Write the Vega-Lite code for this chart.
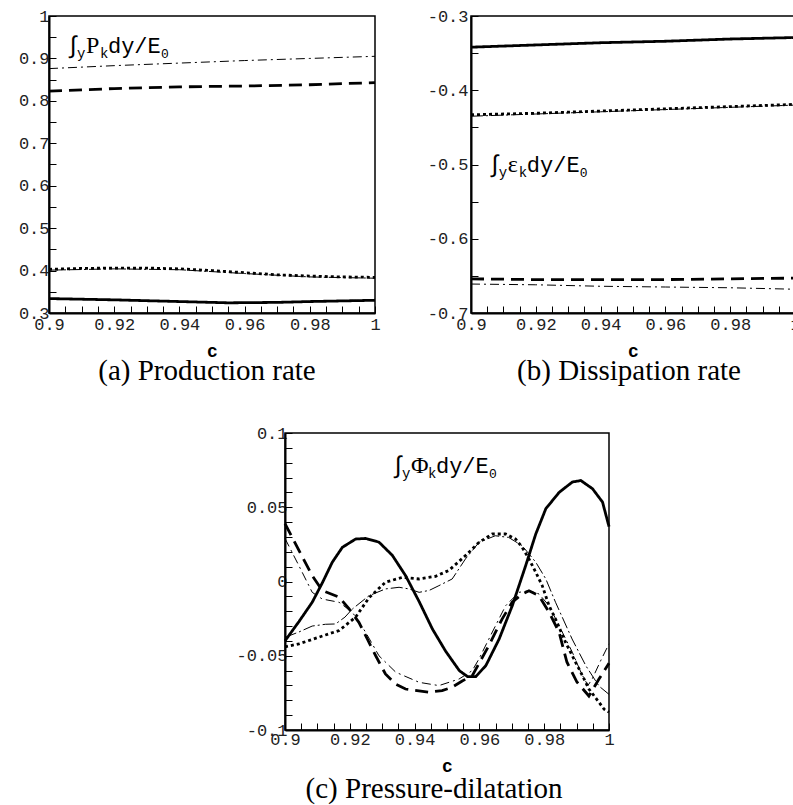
{
  "$schema": "https://vega.github.io/schema/vega-lite/v6.json",
  "padding": {"left": 17, "top": 6, "right": 0, "bottom": 0},
  "background": "white",
  "config": {
    "view": {"stroke": "black", "strokeWidth": 1.5},
    "axis": {"domainColor": "black", "domainWidth": 2, "tickColor": "black", "tickWidth": 1, "tickSize": -7, "labelFont": "Liberation Mono", "labelFontSize": 17, "labelColor": "#222", "grid": false, "titleFont": "Liberation Mono", "titleFontSize": 18, "titleFontWeight": "bold", "titleColor": "black", "labelFlush": false, "labelOverlap": false},
    "title": {"font": "Liberation Serif", "fontSize": 29, "fontWeight": "normal", "color": "black", "orient": "bottom", "offset": -3},
    "text": {"font": "Liberation Mono", "color": "black", "align": "left", "baseline": "middle"}
  },
  "datasets": {
    "pa": [
      {"s": "solid", "x": 0.9, "y": 0.334}, {"s": "solid", "x": 0.92, "y": 0.331}, {"s": "solid", "x": 0.94, "y": 0.327}, {"s": "solid", "x": 0.955, "y": 0.324}, {"s": "solid", "x": 0.97, "y": 0.325}, {"s": "solid", "x": 0.98, "y": 0.327}, {"s": "solid", "x": 1.0, "y": 0.330},
      {"s": "dot", "x": 0.9, "y": 0.403}, {"s": "dot", "x": 0.91, "y": 0.405}, {"s": "dot", "x": 0.92, "y": 0.406}, {"s": "dot", "x": 0.93, "y": 0.406}, {"s": "dot", "x": 0.94, "y": 0.404}, {"s": "dot", "x": 0.95, "y": 0.400}, {"s": "dot", "x": 0.96, "y": 0.395}, {"s": "dot", "x": 0.97, "y": 0.390}, {"s": "dot", "x": 0.98, "y": 0.387}, {"s": "dot", "x": 0.99, "y": 0.385}, {"s": "dot", "x": 1.0, "y": 0.384},
      {"s": "dashdotA", "x": 0.9, "y": 0.401}, {"s": "dashdotA", "x": 0.92, "y": 0.404}, {"s": "dashdotA", "x": 0.94, "y": 0.402}, {"s": "dashdotA", "x": 0.96, "y": 0.393}, {"s": "dashdotA", "x": 0.98, "y": 0.385}, {"s": "dashdotA", "x": 1.0, "y": 0.382},
      {"s": "dash", "x": 0.9, "y": 0.823}, {"s": "dash", "x": 0.92, "y": 0.829}, {"s": "dash", "x": 0.94, "y": 0.833}, {"s": "dash", "x": 0.96, "y": 0.835}, {"s": "dash", "x": 0.98, "y": 0.838}, {"s": "dash", "x": 1.0, "y": 0.843},
      {"s": "dashdotB", "x": 0.9, "y": 0.876}, {"s": "dashdotB", "x": 0.92, "y": 0.883}, {"s": "dashdotB", "x": 0.94, "y": 0.889}, {"s": "dashdotB", "x": 0.96, "y": 0.895}, {"s": "dashdotB", "x": 0.98, "y": 0.900}, {"s": "dashdotB", "x": 1.0, "y": 0.905}
    ],
    "pb": [
      {"s": "solid", "x": 0.9, "y": -0.342}, {"s": "solid", "x": 0.92, "y": -0.339}, {"s": "solid", "x": 0.94, "y": -0.336}, {"s": "solid", "x": 0.96, "y": -0.334}, {"s": "solid", "x": 0.98, "y": -0.331}, {"s": "solid", "x": 1.0, "y": -0.329},
      {"s": "dot", "x": 0.9, "y": -0.433}, {"s": "dot", "x": 0.92, "y": -0.431}, {"s": "dot", "x": 0.94, "y": -0.428}, {"s": "dot", "x": 0.96, "y": -0.425}, {"s": "dot", "x": 0.98, "y": -0.422}, {"s": "dot", "x": 1.0, "y": -0.419},
      {"s": "dashdotA", "x": 0.9, "y": -0.435}, {"s": "dashdotA", "x": 0.92, "y": -0.432}, {"s": "dashdotA", "x": 0.94, "y": -0.429}, {"s": "dashdotA", "x": 0.96, "y": -0.426}, {"s": "dashdotA", "x": 0.98, "y": -0.423}, {"s": "dashdotA", "x": 1.0, "y": -0.420},
      {"s": "dash", "x": 0.9, "y": -0.654}, {"s": "dash", "x": 0.92, "y": -0.655}, {"s": "dash", "x": 0.94, "y": -0.655}, {"s": "dash", "x": 0.96, "y": -0.655}, {"s": "dash", "x": 0.98, "y": -0.654}, {"s": "dash", "x": 1.0, "y": -0.653},
      {"s": "dashdotB", "x": 0.9, "y": -0.661}, {"s": "dashdotB", "x": 0.92, "y": -0.662}, {"s": "dashdotB", "x": 0.94, "y": -0.664}, {"s": "dashdotB", "x": 0.96, "y": -0.665}, {"s": "dashdotB", "x": 0.98, "y": -0.666}, {"s": "dashdotB", "x": 1.0, "y": -0.668}
    ],
    "pc": [
      {"s": "solid", "x": 0.9, "y": -0.040}, {"s": "solid", "x": 0.9043, "y": -0.027}, {"s": "solid", "x": 0.9084, "y": -0.014}, {"s": "solid", "x": 0.9115, "y": -0.001}, {"s": "solid", "x": 0.9146, "y": 0.013}, {"s": "solid", "x": 0.9177, "y": 0.023}, {"s": "solid", "x": 0.9218, "y": 0.0286}, {"s": "solid", "x": 0.9249, "y": 0.029}, {"s": "solid", "x": 0.929, "y": 0.0265}, {"s": "solid", "x": 0.9331, "y": 0.0177}, {"s": "solid", "x": 0.9372, "y": 0.004}, {"s": "solid", "x": 0.9414, "y": -0.0135}, {"s": "solid", "x": 0.9455, "y": -0.032}, {"s": "solid", "x": 0.9496, "y": -0.047}, {"s": "solid", "x": 0.9538, "y": -0.060}, {"s": "solid", "x": 0.9563, "y": -0.064}, {"s": "solid", "x": 0.9589, "y": -0.064}, {"s": "solid", "x": 0.962, "y": -0.0566}, {"s": "solid", "x": 0.9661, "y": -0.0387}, {"s": "solid", "x": 0.9702, "y": -0.016}, {"s": "solid", "x": 0.9743, "y": 0.0108}, {"s": "solid", "x": 0.9774, "y": 0.032}, {"s": "solid", "x": 0.9805, "y": 0.049}, {"s": "solid", "x": 0.9846, "y": 0.060}, {"s": "solid", "x": 0.9887, "y": 0.067}, {"s": "solid", "x": 0.9913, "y": 0.068}, {"s": "solid", "x": 0.9949, "y": 0.0625}, {"s": "solid", "x": 0.998, "y": 0.0535}, {"s": "solid", "x": 1.0, "y": 0.037},
      {"s": "dot", "x": 0.9, "y": -0.044}, {"s": "dot", "x": 0.9043, "y": -0.042}, {"s": "dot", "x": 0.9084, "y": -0.039}, {"s": "dot", "x": 0.9125, "y": -0.036}, {"s": "dot", "x": 0.9167, "y": -0.033}, {"s": "dot", "x": 0.9218, "y": -0.024}, {"s": "dot", "x": 0.9259, "y": -0.011}, {"s": "dot", "x": 0.931, "y": -0.0005}, {"s": "dot", "x": 0.9362, "y": 0.0028}, {"s": "dot", "x": 0.9414, "y": 0.0017}, {"s": "dot", "x": 0.9465, "y": 0.0035}, {"s": "dot", "x": 0.9506, "y": 0.0075}, {"s": "dot", "x": 0.9557, "y": 0.0174}, {"s": "dot", "x": 0.9599, "y": 0.0264}, {"s": "dot", "x": 0.964, "y": 0.032}, {"s": "dot", "x": 0.9681, "y": 0.032}, {"s": "dot", "x": 0.9712, "y": 0.0286}, {"s": "dot", "x": 0.9732, "y": 0.023}, {"s": "dot", "x": 0.9753, "y": 0.0152}, {"s": "dot", "x": 0.9774, "y": 0.0062}, {"s": "dot", "x": 0.9794, "y": -0.0028}, {"s": "dot", "x": 0.9815, "y": -0.0163}, {"s": "dot", "x": 0.9835, "y": -0.0253}, {"s": "dot", "x": 0.9866, "y": -0.041}, {"s": "dot", "x": 0.9897, "y": -0.0544}, {"s": "dot", "x": 0.9918, "y": -0.0634}, {"s": "dot", "x": 0.9938, "y": -0.0724}, {"s": "dot", "x": 0.9969, "y": -0.0813}, {"s": "dot", "x": 0.9985, "y": -0.086}, {"s": "dot", "x": 1.0, "y": -0.088},
      {"s": "dashdotA", "x": 0.9, "y": -0.0376}, {"s": "dashdotA", "x": 0.9043, "y": -0.034}, {"s": "dashdotA", "x": 0.9084, "y": -0.030}, {"s": "dashdotA", "x": 0.9125, "y": -0.0288}, {"s": "dashdotA", "x": 0.9156, "y": -0.0286}, {"s": "dashdotA", "x": 0.9185, "y": -0.024}, {"s": "dashdotA", "x": 0.9208, "y": -0.0185}, {"s": "dashdotA", "x": 0.9259, "y": -0.0096}, {"s": "dashdotA", "x": 0.931, "y": -0.005}, {"s": "dashdotA", "x": 0.9352, "y": -0.0039}, {"s": "dashdotA", "x": 0.9383, "y": -0.005}, {"s": "dashdotA", "x": 0.9414, "y": -0.0073}, {"s": "dashdotA", "x": 0.9445, "y": -0.006}, {"s": "dashdotA", "x": 0.9475, "y": -0.0028}, {"s": "dashdotA", "x": 0.9516, "y": 0.0017}, {"s": "dashdotA", "x": 0.9557, "y": 0.0152}, {"s": "dashdotA", "x": 0.9599, "y": 0.0264}, {"s": "dashdotA", "x": 0.9649, "y": 0.0308}, {"s": "dashdotA", "x": 0.969, "y": 0.0297}, {"s": "dashdotA", "x": 0.9732, "y": 0.0241}, {"s": "dashdotA", "x": 0.9774, "y": 0.013}, {"s": "dashdotA", "x": 0.9805, "y": 0.0017}, {"s": "dashdotA", "x": 0.9835, "y": -0.014}, {"s": "dashdotA", "x": 0.9886, "y": -0.0387}, {"s": "dashdotA", "x": 0.9929, "y": -0.0569}, {"s": "dashdotA", "x": 0.9969, "y": -0.0704}, {"s": "dashdotA", "x": 1.0, "y": -0.076},
      {"s": "dash", "x": 0.9, "y": 0.039}, {"s": "dash", "x": 0.9043, "y": 0.021}, {"s": "dash", "x": 0.9084, "y": 0.004}, {"s": "dash", "x": 0.9115, "y": -0.006}, {"s": "dash", "x": 0.9167, "y": -0.0106}, {"s": "dash", "x": 0.9198, "y": -0.0185}, {"s": "dash", "x": 0.9228, "y": -0.0275}, {"s": "dash", "x": 0.9254, "y": -0.0387}, {"s": "dash", "x": 0.928, "y": -0.050}, {"s": "dash", "x": 0.931, "y": -0.0623}, {"s": "dash", "x": 0.9341, "y": -0.069}, {"s": "dash", "x": 0.9372, "y": -0.0724}, {"s": "dash", "x": 0.9444, "y": -0.0745}, {"s": "dash", "x": 0.9485, "y": -0.0735}, {"s": "dash", "x": 0.9516, "y": -0.0712}, {"s": "dash", "x": 0.9547, "y": -0.067}, {"s": "dash", "x": 0.9578, "y": -0.0634}, {"s": "dash", "x": 0.9629, "y": -0.0432}, {"s": "dash", "x": 0.967, "y": -0.0253}, {"s": "dash", "x": 0.9701, "y": -0.014}, {"s": "dash", "x": 0.9732, "y": -0.0084}, {"s": "dash", "x": 0.9753, "y": -0.0062}, {"s": "dash", "x": 0.9784, "y": -0.0096}, {"s": "dash", "x": 0.9815, "y": -0.0207}, {"s": "dash", "x": 0.9846, "y": -0.0342}, {"s": "dash", "x": 0.987, "y": -0.0542}, {"s": "dash", "x": 0.9901, "y": -0.0677}, {"s": "dash", "x": 0.9938, "y": -0.0771}, {"s": "dash", "x": 0.9969, "y": -0.0657}, {"s": "dash", "x": 1.0, "y": -0.055},
      {"s": "dashdotB", "x": 0.9, "y": 0.029}, {"s": "dashdotB", "x": 0.9043, "y": 0.0106}, {"s": "dashdotB", "x": 0.9084, "y": -0.0073}, {"s": "dashdotB", "x": 0.9115, "y": -0.0118}, {"s": "dashdotB", "x": 0.9167, "y": -0.014}, {"s": "dashdotB", "x": 0.9208, "y": -0.0207}, {"s": "dashdotB", "x": 0.9249, "y": -0.0342}, {"s": "dashdotB", "x": 0.929, "y": -0.05}, {"s": "dashdotB", "x": 0.9342, "y": -0.0611}, {"s": "dashdotB", "x": 0.9414, "y": -0.0679}, {"s": "dashdotB", "x": 0.9475, "y": -0.0701}, {"s": "dashdotB", "x": 0.9537, "y": -0.0657}, {"s": "dashdotB", "x": 0.9578, "y": -0.060}, {"s": "dashdotB", "x": 0.9599, "y": -0.052}, {"s": "dashdotB", "x": 0.964, "y": -0.034}, {"s": "dashdotB", "x": 0.9681, "y": -0.0163}, {"s": "dashdotB", "x": 0.9722, "y": -0.0073}, {"s": "dashdotB", "x": 0.9753, "y": -0.0062}, {"s": "dashdotB", "x": 0.9784, "y": -0.0084}, {"s": "dashdotB", "x": 0.9815, "y": -0.0163}, {"s": "dashdotB", "x": 0.9846, "y": -0.0298}, {"s": "dashdotB", "x": 0.9887, "y": -0.0477}, {"s": "dashdotB", "x": 0.9915, "y": -0.062}, {"s": "dashdotB", "x": 0.9935, "y": -0.070}, {"s": "dashdotB", "x": 0.9948, "y": -0.0657}, {"s": "dashdotB", "x": 0.9975, "y": -0.053}, {"s": "dashdotB", "x": 1.0, "y": -0.042}
    ]
  },
  "spacing": 36,
  "vconcat": [
    {
      "bounds": "flush",
      "spacing": 96,
      "hconcat": [
        {
          "width": 326, "height": 297,
          "title": {"text": "(a) Production rate", "dx": -5},
          "encoding": {
            "x": {"field": "x", "type": "quantitative", "scale": {"domain": [0.9, 1], "nice": false, "zero": false}, "axis": {"title": "c", "values": [0.9, 0.905, 0.91, 0.915, 0.92, 0.925, 0.93, 0.935, 0.94, 0.945, 0.95, 0.955, 0.96, 0.965, 0.97, 0.975, 0.98, 0.985, 0.99, 0.995, 1], "labelExpr": "abs(datum.value*50-round(datum.value*50))<0.001 ? ''+datum.value : ''", "labelPadding": 10, "titlePadding": 10}},
            "y": {"field": "y", "type": "quantitative", "scale": {"domain": [0.3, 1], "nice": false, "zero": false}, "axis": {"title": null, "values": [0.3, 0.35, 0.4, 0.45, 0.5, 0.55, 0.6, 0.65, 0.7, 0.75, 0.8, 0.85, 0.9, 0.95, 1], "labelExpr": "abs(datum.value*10-round(datum.value*10))<0.001 ? ''+datum.value : ''", "labelPadding": 7}}
          },
          "layer": [
            {"data": {"name": "pa"}, "transform": [{"filter": "datum.s=='dashdotA'||datum.s=='dashdotB'"}], "mark": {"type": "line", "color": "black", "strokeWidth": 1, "strokeCap": "butt"},
             "encoding": {"strokeDash": {"field": "s", "type": "nominal", "scale": {"domain": ["solid", "dot", "dashdotA", "dash", "dashdotB"], "range": [[1, 0], [3, 3], [12, 3, 2, 3], [13, 7], [9, 4, 2, 4]]}, "legend": null}}},
            {"data": {"name": "pa"}, "transform": [{"filter": "datum.s=='solid'||datum.s=='dot'||datum.s=='dash'"}], "mark": {"type": "line", "color": "black", "strokeWidth": 2.8, "strokeCap": "butt"},
             "encoding": {"strokeDash": {"field": "s", "type": "nominal", "scale": {"domain": ["solid", "dot", "dashdotA", "dash", "dashdotB"], "range": [[1, 0], [3, 3], [12, 3, 2, 3], [13, 7], [9, 4, 2, 4]]}, "legend": null}}},
            {"data": {"values": [{"x": 0.9052, "y": 0.929}]}, "mark": {"type": "text", "text": "∫", "fontSize": 24}},
            {"data": {"values": [{"x": 0.9052, "y": 0.929}]}, "mark": {"type": "text", "text": "y", "fontSize": 14, "dx": 11, "dy": 8}},
            {"data": {"values": [{"x": 0.9052, "y": 0.929}]}, "mark": {"type": "text", "text": "P", "font": "Liberation Serif", "fontSize": 24, "dx": 20}},
            {"data": {"values": [{"x": 0.9052, "y": 0.929}]}, "mark": {"type": "text", "text": "k", "fontSize": 14, "dx": 34, "dy": 8}},
            {"data": {"values": [{"x": 0.9052, "y": 0.929}]}, "mark": {"type": "text", "text": "dy/E", "fontSize": 22, "dx": 42}},
            {"data": {"values": [{"x": 0.9052, "y": 0.929}]}, "mark": {"type": "text", "text": "0", "fontSize": 13, "dx": 95, "dy": 8}}
          ]
        },
        {
          "width": 324, "height": 297,
          "title": {"text": "(b) Dissipation rate", "dx": -4},
          "encoding": {
            "x": {"field": "x", "type": "quantitative", "scale": {"domain": [0.9, 1], "nice": false, "zero": false}, "axis": {"title": "c", "values": [0.9, 0.905, 0.91, 0.915, 0.92, 0.925, 0.93, 0.935, 0.94, 0.945, 0.95, 0.955, 0.96, 0.965, 0.97, 0.975, 0.98, 0.985, 0.99, 0.995, 1], "labelExpr": "abs(datum.value*50-round(datum.value*50))<0.001 ? ''+datum.value : ''", "labelPadding": 10, "titlePadding": 10}},
            "y": {"field": "y", "type": "quantitative", "scale": {"domain": [-0.7, -0.3], "nice": false, "zero": false}, "axis": {"title": null, "values": [-0.7, -0.65, -0.6, -0.55, -0.5, -0.45, -0.4, -0.35, -0.3], "labelExpr": "abs(datum.value*10-round(datum.value*10))<0.001 ? ''+datum.value : ''", "labelPadding": 10}}
          },
          "layer": [
            {"data": {"name": "pb"}, "transform": [{"filter": "datum.s=='dashdotA'||datum.s=='dashdotB'"}], "mark": {"type": "line", "color": "black", "strokeWidth": 1, "strokeCap": "butt"},
             "encoding": {"strokeDash": {"field": "s", "type": "nominal", "scale": {"domain": ["solid", "dot", "dashdotA", "dash", "dashdotB"], "range": [[1, 0], [3, 3], [12, 3, 2, 3], [13, 7], [9, 4, 2, 4]]}, "legend": null}}},
            {"data": {"name": "pb"}, "transform": [{"filter": "datum.s=='solid'||datum.s=='dot'||datum.s=='dash'"}], "mark": {"type": "line", "color": "black", "strokeWidth": 2.8, "strokeCap": "butt"},
             "encoding": {"strokeDash": {"field": "s", "type": "nominal", "scale": {"domain": ["solid", "dot", "dashdotA", "dash", "dashdotB"], "range": [[1, 0], [3, 3], [12, 3, 2, 3], [13, 7], [9, 4, 2, 4]]}, "legend": null}}},
            {"data": {"values": [{"x": 0.9052, "y": -0.5}]}, "mark": {"type": "text", "text": "∫", "fontSize": 24}},
            {"data": {"values": [{"x": 0.9052, "y": -0.5}]}, "mark": {"type": "text", "text": "y", "fontSize": 14, "dx": 11, "dy": 8}},
            {"data": {"values": [{"x": 0.9052, "y": -0.5}]}, "mark": {"type": "text", "text": "ε", "font": "Liberation Serif", "fontSize": 24, "dx": 20}},
            {"data": {"values": [{"x": 0.9052, "y": -0.5}]}, "mark": {"type": "text", "text": "k", "fontSize": 14, "dx": 31, "dy": 8}},
            {"data": {"values": [{"x": 0.9052, "y": -0.5}]}, "mark": {"type": "text", "text": "dy/E", "fontSize": 22, "dx": 39}},
            {"data": {"values": [{"x": 0.9052, "y": -0.5}]}, "mark": {"type": "text", "text": "0", "fontSize": 13, "dx": 92, "dy": 8}}
          ]
        }
      ]
    },
    {
      "bounds": "flush",
      "spacing": 20,
      "hconcat": [
        {"width": 216, "height": 297, "view": {"stroke": null}, "data": {"values": [{"a": 1}]}, "mark": {"type": "point", "opacity": 0}},
        {
          "width": 324, "height": 297,
          "title": {"text": "(c) Pressure-dilatation", "dx": -13, "offset": 0},
          "encoding": {
            "x": {"field": "x", "type": "quantitative", "scale": {"domain": [0.9, 1], "nice": false, "zero": false}, "axis": {"title": "c", "values": [0.9, 0.905, 0.91, 0.915, 0.92, 0.925, 0.93, 0.935, 0.94, 0.945, 0.95, 0.955, 0.96, 0.965, 0.97, 0.975, 0.98, 0.985, 0.99, 0.995, 1], "labelExpr": "abs(datum.value*50-round(datum.value*50))<0.001 ? ''+datum.value : ''", "labelPadding": 8, "titlePadding": 10}},
            "y": {"field": "y", "type": "quantitative", "scale": {"domain": [-0.1, 0.1], "nice": false, "zero": false}, "axis": {"title": null, "values": [-0.1, -0.09, -0.08, -0.07, -0.06, -0.05, -0.04, -0.03, -0.02, -0.01, 0, 0.01, 0.02, 0.03, 0.04, 0.05, 0.06, 0.07, 0.08, 0.09, 0.1], "labelExpr": "abs(datum.value*20-round(datum.value*20))<0.001 ? ''+datum.value : ''", "labelPadding": 5}}
          },
          "layer": [
            {"data": {"name": "pc"}, "transform": [{"filter": "datum.s=='dashdotA'||datum.s=='dashdotB'"}], "mark": {"type": "line", "color": "black", "strokeWidth": 1, "strokeCap": "butt"},
             "encoding": {"strokeDash": {"field": "s", "type": "nominal", "scale": {"domain": ["solid", "dot", "dashdotA", "dash", "dashdotB"], "range": [[1, 0], [3, 3], [12, 3, 2, 3], [13, 7], [9, 4, 2, 4]]}, "legend": null}}},
            {"data": {"name": "pc"}, "transform": [{"filter": "datum.s=='solid'||datum.s=='dot'||datum.s=='dash'"}], "mark": {"type": "line", "color": "black", "strokeWidth": 2.8, "strokeCap": "butt"},
             "encoding": {"strokeDash": {"field": "s", "type": "nominal", "scale": {"domain": ["solid", "dot", "dashdotA", "dash", "dashdotB"], "range": [[1, 0], [3, 3], [12, 3, 2, 3], [13, 7], [9, 4, 2, 4]]}, "legend": null}}},
            {"data": {"values": [{"x": 0.9327, "y": 0.0778}]}, "mark": {"type": "text", "text": "∫", "fontSize": 24}},
            {"data": {"values": [{"x": 0.9327, "y": 0.0778}]}, "mark": {"type": "text", "text": "y", "fontSize": 14, "dx": 11, "dy": 8}},
            {"data": {"values": [{"x": 0.9327, "y": 0.0778}]}, "mark": {"type": "text", "text": "Φ", "font": "Liberation Serif", "fontSize": 24, "dx": 20}},
            {"data": {"values": [{"x": 0.9327, "y": 0.0778}]}, "mark": {"type": "text", "text": "k", "fontSize": 14, "dx": 37, "dy": 8}},
            {"data": {"values": [{"x": 0.9327, "y": 0.0778}]}, "mark": {"type": "text", "text": "dy/E", "fontSize": 22, "dx": 45}},
            {"data": {"values": [{"x": 0.9327, "y": 0.0778}]}, "mark": {"type": "text", "text": "0", "fontSize": 13, "dx": 98, "dy": 8}}
          ]
        }
      ]
    }
  ]
}
